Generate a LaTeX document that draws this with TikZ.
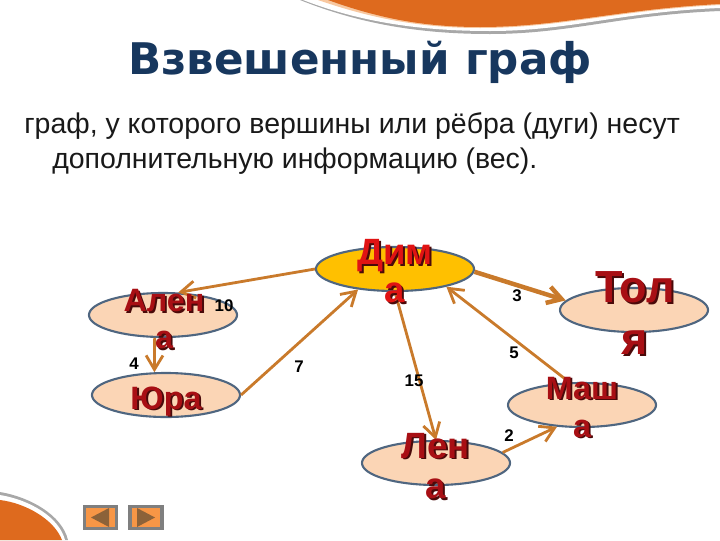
\documentclass[tikz,border=0pt]{standalone}
\usepackage{fontspec}
\setmainfont{Liberation Sans}
\newfontfamily\titlefont{DejaVu Sans}
\usetikzlibrary{arrows.meta,shapes.geometric}

\definecolor{swoosh}{HTML}{DE6A1E}
\definecolor{swooshedge}{HTML}{F8C8A0}
\definecolor{rimgray}{HTML}{A8A8A8}
\definecolor{titleblue}{HTML}{17375E}
\definecolor{edgeorange}{HTML}{C97A2B}
\definecolor{outline}{HTML}{4F6680}
\definecolor{peach}{HTML}{FBD5B5}
\definecolor{amber}{HTML}{FFC000}
\definecolor{namered}{HTML}{A80F14}
\definecolor{mainred}{HTML}{E01313}
\definecolor{nameshadow}{HTML}{4A0A0A}
\definecolor{btnfill}{HTML}{F79646}
\definecolor{btnrim}{HTML}{7F7F7F}
\definecolor{btntip}{HTML}{8C6239}

\newcommand{\shadowed}[2]{\makebox[0pt][l]{\hspace{1.3pt}\raisebox{-1.3pt}{\textcolor{nameshadow}{#2}}}\textcolor{#1}{#2}}

\begin{document}
\begin{tikzpicture}[
    x=0.025cm, y=-0.025cm,
    >={Straight Barb[length=10pt,width=12pt]},
    vertex/.style={draw=outline, ellipse, fill=peach, line width=1.5pt,
                   minimum width=3.7cm, minimum height=1.1cm, inner sep=0pt},
    link/.style={->, draw=edgeorange, line width=2pt},
    weight/.style={font=\bfseries\fontsize{12}{14}\selectfont, inner sep=0pt},
    vname/.style={align=center, inner sep=0pt},
    navbtn/.style={draw=btnrim, fill=btnfill, line width=2.4pt,
                   minimum width=0.8cm, minimum height=0.56cm, inner sep=0pt},
]
\useasboundingbox (0,0) rectangle (720,540);

% === Slide decoration ===
\fill[rimgray] (300,0) .. controls (360,24) and (420,34) .. (490,34)
     .. controls (570,34) and (620,15) .. (720,11) -- (720,0) -- cycle;
\fill[white] (303,0) .. controls (360,22) and (420,31) .. (490,31)
     .. controls (570,31) and (620,12) .. (720,8) -- (720,0) -- cycle;
\fill[swooshedge] (318,0) .. controls (370,18) and (420,28) .. (480,28)
     .. controls (560,28) and (620,10) .. (720,5) -- (720,0) -- cycle;
\fill[swoosh] (328,0) .. controls (375,17) and (420,27) .. (480,27)
     .. controls (560,27) and (620,9) .. (720,4) -- (720,0) -- cycle;
\fill[rimgray] (0,492) .. controls (30,497) and (62,515) .. (68,540) -- (0,540) -- cycle;
\fill[white] (0,495) .. controls (30,500) and (59,517) .. (65,540) -- (0,540) -- cycle;
\fill[swoosh] (0,500) .. controls (25,503) and (54,519) .. (62,540) -- (0,540) -- cycle;

% === Heading and text ===
\node[font=\titlefont\bfseries\fontsize{31}{36}\selectfont, text=titleblue, inner sep=0pt] (title)
     at (360,62) {Взвешенный граф};
\node[anchor=base west, font=\fontsize{20.25}{24}\selectfont, text=black!90, inner sep=0pt] (line1)
     at (24,133) {граф, у которого вершины или рёбра (дуги) несут};
\node[anchor=base west, font=\fontsize{20.25}{24}\selectfont, text=black!90, inner sep=0pt] (line2)
     at (52,168) {дополнительную информацию (вес).};

% === Vertices ===
\node[vertex, fill=amber, minimum width=3.95cm] (dima) at (395,269) {};
\node[vertex] (tolya) at (634,310) {};
\node[vertex] (alena) at (163,315) {};
\node[vertex] (yura) at (166,395) {};
\node[vertex] (lena) at (436,463) {};
\node[vertex] (masha) at (582,405) {};

% === Edges ===
\draw[link] (dima.180) -- (alena.56);
\draw[link] (alena.250) -- (yura.117);
\draw[link] (yura.0) -- (dima.209);
\draw[link] (dima.270) -- (lena.90);
\draw[link] (lena.9) -- (masha.221);
\draw[link] (masha.119) -- (dima.341);
\draw[link, line width=3.2pt] (dima.358) -- (tolya.172);

% === Weights ===
\node[weight] (w10) at (224,306) {10};
\node[weight] (w4) at (134,364) {4};
\node[weight] (w7) at (299,367) {7};
\node[weight] (w15) at (414,381) {15};
\node[weight] (w3) at (517,296) {3};
\node[weight] (w5) at (514,353) {5};
\node[weight] (w2) at (509,436) {2};

% === Vertex names ===
\node[vname, font=\bfseries\fontsize{26}{27}\selectfont] (dimaname) at (395,272)
     {\shadowed{mainred}{Дим}\\\shadowed{mainred}{а}};
\node[vname, font=\bfseries\fontsize{32}{37}\selectfont] (tolyaname) at (635,314)
     {\shadowed{namered}{Тол}\\\shadowed{namered}{я}};
\node[vname, font=\bfseries\fontsize{23}{26}\selectfont] (alenaname) at (164,320)
     {\shadowed{namered}{Ален}\\\shadowed{namered}{а}};
\node[vname, font=\bfseries\fontsize{23}{26}\selectfont] (yuraname) at (166,402)
     {\shadowed{namered}{Юра}};
\node[vname, font=\bfseries\fontsize{26}{29}\selectfont] (lenaname) at (436,467)
     {\shadowed{namered}{Лен}\\\shadowed{namered}{а}};
\node[vname, font=\bfseries\fontsize{23}{27}\selectfont] (mashaname) at (582,408)
     {\shadowed{namered}{Маш}\\\shadowed{namered}{а}};

% === Navigation buttons ===
\node[navbtn] (prevbtn) at (100.5,517.5) {};
\node[navbtn] (nextbtn) at (146,517.5) {};
\fill[btntip] (91,517.5) -- (109,508) -- (109,527) -- cycle;
\fill[btntip] (155,517.5) -- (137,508) -- (137,527) -- cycle;

\end{tikzpicture}
\end{document}
